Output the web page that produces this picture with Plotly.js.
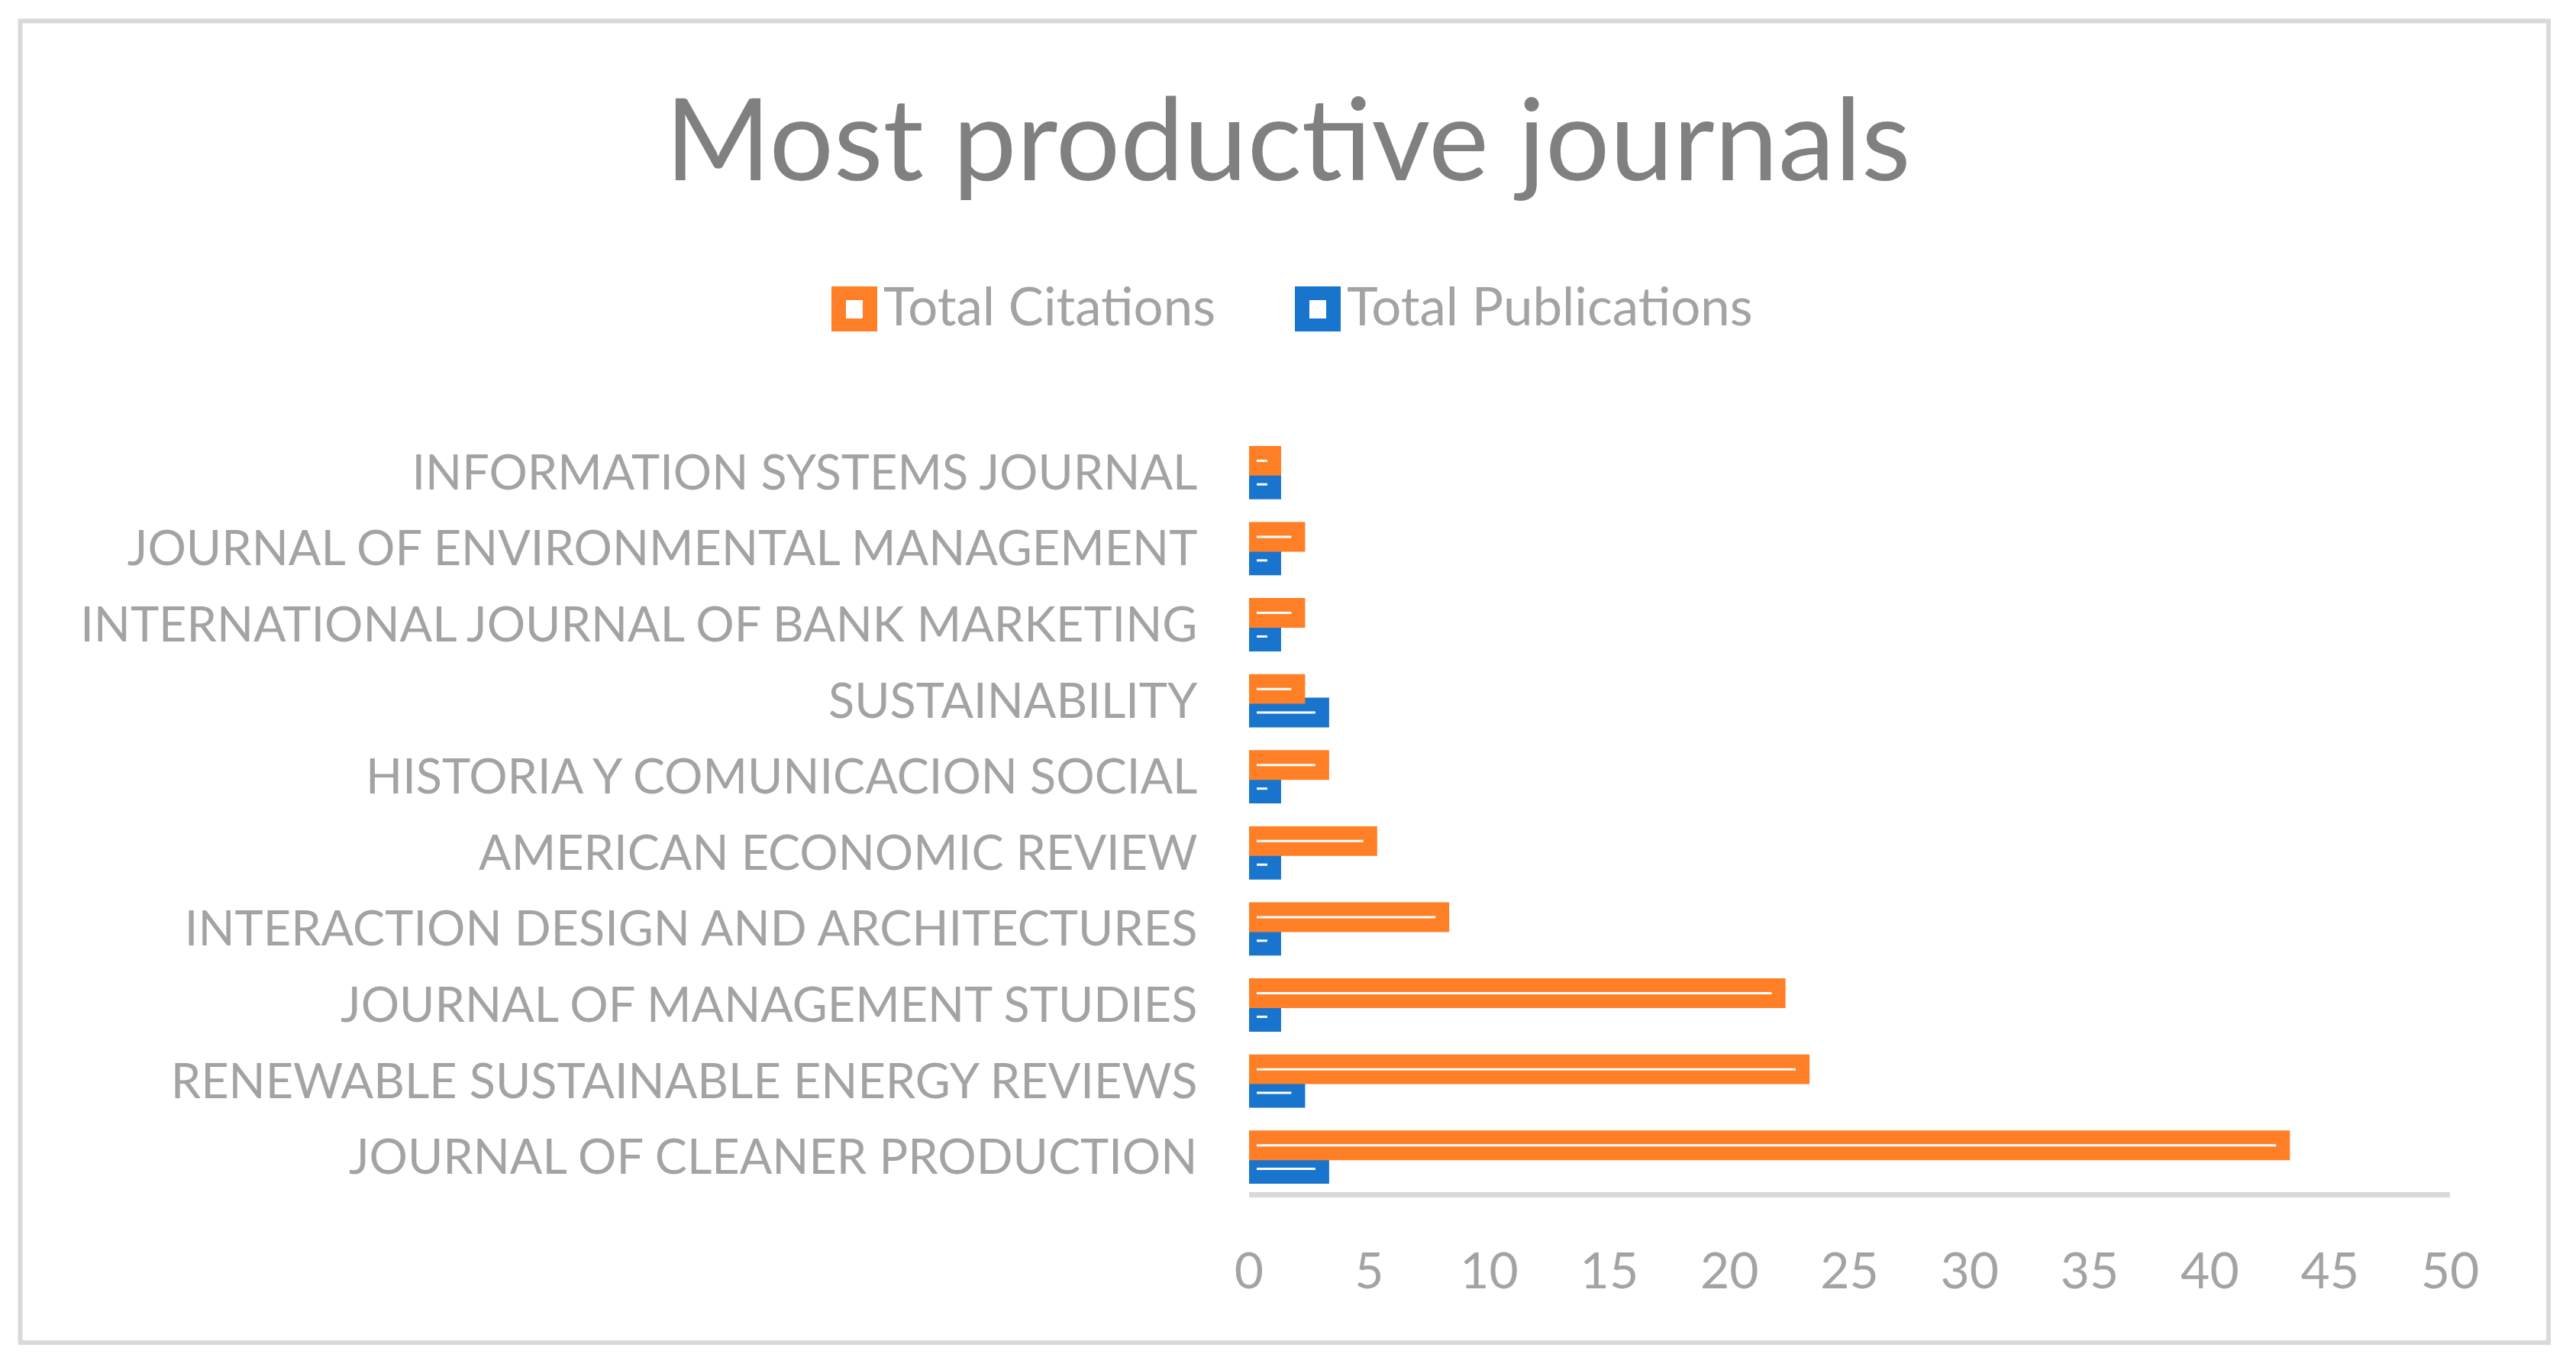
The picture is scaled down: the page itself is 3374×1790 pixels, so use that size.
<!DOCTYPE html>
<html><head><meta charset="utf-8">
<script src="https://cdn.plot.ly/plotly-3.0.1.min.js"></script>
<style>html,body{margin:0;padding:0;background:#fff;overflow:hidden}#chart{width:3374px;height:1790px}</style>
</head><body><div id="chart"></div>
<script>
// ---- data ----
const journals = [
  "JOURNAL OF CLEANER PRODUCTION",
  "RENEWABLE SUSTAINABLE ENERGY REVIEWS",
  "JOURNAL OF MANAGEMENT STUDIES",
  "INTERACTION DESIGN AND ARCHITECTURES",
  "AMERICAN ECONOMIC REVIEW",
  "HISTORIA Y COMUNICACION SOCIAL",
  "SUSTAINABILITY",
  "INTERNATIONAL JOURNAL OF BANK MARKETING",
  "JOURNAL OF ENVIRONMENTAL MANAGEMENT",
  "INFORMATION SYSTEMS JOURNAL"
];
const totalCitations    = [43, 23, 22, 8, 5, 3, 2, 2, 2, 1];
const totalPublications = [3, 2, 1, 1, 1, 1, 3, 1, 1, 1];
const xTickValues = [0, 5, 10, 15, 20, 25, 30, 35, 40, 45, 50];
const seriesNames = ["Total Citations", "Total Publications"];
const chartTitle = "Most productive journals";

// ---- style ----
const ORANGE = "#FF7F27", BLUE = "#1874CD";
const FONT = "Lato, 'Open Sans', sans-serif";
const TXT = "#a3a3a3", TITLE = "#808080", LINE = "#d9d9d9";
const W = 3374, H = 1790, L = 1636, R = 3209, T = 565, B = 1561;
const px2x = p => (p - L) / (R - L);
const py2y = p => (B - p) / (B - T);

function barTrace(vals, name, color, offset) {
  return {
    type: "bar", orientation: "h", name: name,
    y: journals, x: vals,
    offset: offset, width: 0.18,
    marker: {color: color, line: {color: color, width: 21}},
    error_x: {type: "data", symmetric: false, visible: true,
      arrayminus: vals.map(v => v - 0.32), array: vals.map(() => -0.24),
      color: "#ffffff", thickness: 3, width: 0},
    hoverinfo: "x+y"
  };
}

const data = [
  barTrace(totalPublications, seriesNames[1], BLUE, -0.245),
  barTrace(totalCitations, seriesNames[0], ORANGE, 0.065)
];

// legend drawn manually (large square icons)
const legendItems = [
  {name: seriesNames[0], color: ORANGE, sq: 1089, tx: 1155},
  {name: seriesNames[1], color: BLUE, sq: 1696, tx: 1762}
];
const shapes = [{
  type: "rect", xref: "paper", yref: "paper",
  x0: px2x(26.5), x1: px2x(3338), y0: py2y(1758), y1: py2y(27.5),
  line: {color: LINE, width: 6}, fillcolor: "rgba(0,0,0,0)", layer: "below"
}];
const annotations = [];
legendItems.forEach(it => {
  shapes.push({type: "rect", xref: "paper", yref: "paper",
    x0: px2x(it.sq), x1: px2x(it.sq + 60), y0: py2y(434), y1: py2y(375),
    line: {width: 0}, fillcolor: it.color});
  shapes.push({type: "rect", xref: "paper", yref: "paper",
    x0: px2x(it.sq + 19), x1: px2x(it.sq + 41), y0: py2y(417), y1: py2y(393),
    line: {width: 0}, fillcolor: "#ffffff"});
  annotations.push({xref: "paper", yref: "paper", x: px2x(it.tx), y: py2y(400),
    xanchor: "left", yanchor: "middle", showarrow: false, text: it.name,
    font: {family: FONT, size: 69, color: TXT}});
});

const layout = {
  width: W, height: H,
  paper_bgcolor: "#ffffff", plot_bgcolor: "#ffffff",
  margin: {l: L, r: W - R, t: T, b: H - B, pad: 0},
  barmode: "overlay",
  showlegend: false,
  title: {text: chartTitle, font: {family: FONT, size: 149, color: TITLE},
    x: 0.5, xanchor: "center", xref: "container",
    y: 1 - 184 / H, yanchor: "middle", yref: "container"},
  xaxis: {range: [0, 50], tickvals: xTickValues, ticktext: xTickValues.map(String),
    showgrid: false, zeroline: false, showline: true, linecolor: LINE, linewidth: 7,
    ticks: "outside", ticklen: 40, tickcolor: "rgba(0,0,0,0)",
    tickfont: {family: FONT, size: 66, color: TXT}, fixedrange: true},
  yaxis: {type: "category", categoryorder: "array", categoryarray: journals,
    range: [-0.46, 9.54], showgrid: false, zeroline: false, showline: false,
    ticks: "outside", ticklen: 54, tickcolor: "rgba(0,0,0,0)",
    tickfont: {family: FONT, size: 63, color: TXT}, fixedrange: true},
  shapes: shapes,
  annotations: annotations
};

Plotly.newPlot("chart", data, layout, {displayModeBar: false, staticPlot: true});
</script>
</body></html>
